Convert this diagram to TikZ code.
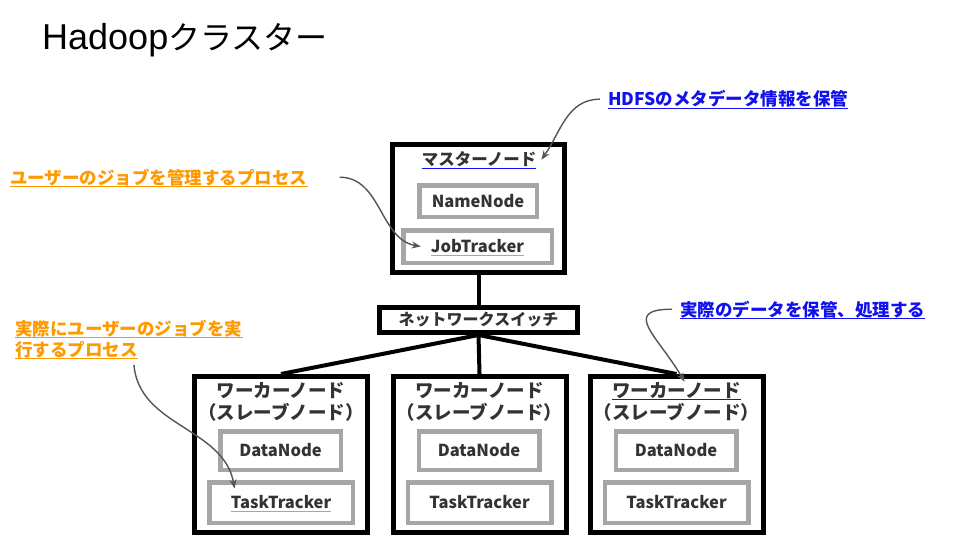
\documentclass[tikz,border=0pt]{standalone}
\usepackage{fontspec}
\setmainfont{Noto Sans CJK JP}
\newfontfamily\titlefont{Liberation Sans}
\usepackage{tikz}
\usetikzlibrary{arrows.meta}
\definecolor{noteblue}{RGB}{17,17,238}
\definecolor{noteorange}{RGB}{255,153,0}
\definecolor{boxgray}{RGB}{166,166,166}
\definecolor{textgray}{RGB}{51,51,51}
\definecolor{arrowgray}{RGB}{85,85,85}
\newcommand{\underlinenode}[2]{\draw[#1,line width=1.6pt] ([yshift=-2.5pt]#2.base west) -- ([yshift=-2.5pt]#2.base east);}

\begin{document}
\begin{tikzpicture}[x=1pt,y=-1pt,
  hostbox/.style={draw=black,line width=5pt,fill=white},
  procbox/.style={draw=boxgray,line width=4.5pt,fill=white},
  proclabel/.style={text=textgray,font=\bfseries\fontsize{16.5}{18}\selectfont,inner sep=0pt},
  headlabel/.style={text=textgray,font=\bfseries\fontsize{18.5}{20}\selectfont,inner sep=0pt,anchor=base},
  note/.style={font=\bfseries\fontsize{17.5}{20}\selectfont,inner sep=0pt,anchor=base west},
  wire/.style={line width=4pt},
  pointer/.style={draw=arrowgray,line width=1.4pt,-{Stealth[length=9pt,width=7pt]}}]
\useasboundingbox[fill=white] (0,0) rectangle (960,540);

\node[anchor=base west,inner sep=0pt] (title) at (42,50) {{\titlefont\fontsize{36}{40}\selectfont Hadoop}{\fontsize{32}{40}\selectfont クラスター}};

\node[hostbox,minimum width=172,minimum height=128] (master) at (478.5,208.5) {};
\node[headlabel,font=\bfseries\fontsize{16.5}{18}\selectfont] (masterhead) at (479,166) {マスターノード};
\node[procbox,minimum width=117.5,minimum height=31.5] (namebox) at (478,201) {};
\node[proclabel] (name) at (namebox) {NameNode};
\node[procbox,minimum width=148.5,minimum height=32.5] (jobbox) at (477.5,246.5) {};
\node[proclabel] (job) at (jobbox) {JobTracker};

\node[hostbox,minimum width=198,minimum height=25,text=textgray,font=\bfseries\fontsize{16}{18}\selectfont] (switch) at (478.5,320) {ネットワークスイッチ};

\node[hostbox,minimum width=173,minimum height=156] (worker1) at (281,454.5) {};
\node[headlabel] (head1a) at (281,397) {ワーカーノード};
\node[headlabel] (head1b) at (281,419) {（スレーブノード）};
\node[procbox,minimum width=120.5,minimum height=38.5] (databox1) at (280.5,450.5) {};
\node[proclabel] (data1) at (databox1) {DataNode};
\node[procbox,minimum width=143.5,minimum height=40.5] (taskbox1) at (281,502.5) {};
\node[proclabel] (task1) at (taskbox1) {TaskTracker};

\node[hostbox,minimum width=173,minimum height=156] (worker2) at (479.5,454.5) {};
\node[headlabel] (head2a) at (479.5,397) {ワーカーノード};
\node[headlabel] (head2b) at (479.5,419) {（スレーブノード）};
\node[procbox,minimum width=120.5,minimum height=38.5] (databox2) at (479,450.5) {};
\node[proclabel] (data2) at (databox2) {DataNode};
\node[procbox,minimum width=143.5,minimum height=40.5] (taskbox2) at (479.5,502.5) {};
\node[proclabel] (task2) at (taskbox2) {TaskTracker};

\node[hostbox,minimum width=173,minimum height=156] (worker3) at (676.5,454.5) {};
\node[headlabel] (head3a) at (676.5,397) {ワーカーノード};
\node[headlabel] (head3b) at (676.5,419) {（スレーブノード）};
\node[procbox,minimum width=120.5,minimum height=38.5] (databox3) at (676,450.5) {};
\node[proclabel] (data3) at (databox3) {DataNode};
\node[procbox,minimum width=143.5,minimum height=40.5] (taskbox3) at (676.5,502.5) {};
\node[proclabel] (task3) at (taskbox3) {TaskTracker};

\draw[wire] (master.south) -- (switch.north);
\draw[wire] (switch.south) -- (worker1.north);
\draw[wire] (switch.south) -- (worker2.north);
\draw[wire] (switch.south) -- (worker3.north);

\node[note,text=noteblue] (hdfsnote) at (608,106) {HDFSのメタデータ情報を保管};
\node[note,text=noteorange] (jobnote) at (10,184) {ユーザーのジョブを管理するプロセス};
\node[note,text=noteorange] (tasknote1) at (15,335) {実際にユーザーのジョブを実};
\node[note,text=noteorange] (tasknote2) at (15,356) {行するプロセス};
\node[note,text=noteblue] (datanote) at (680,316) {実際のデータを保管、処理する};

\underlinenode{noteblue}{hdfsnote}
\underlinenode{noteorange}{jobnote}
\underlinenode{noteorange}{tasknote1}
\underlinenode{noteorange}{tasknote2}
\underlinenode{noteblue}{datanote}
\underlinenode{noteblue}{masterhead}
\underlinenode{noteorange}{job}
\underlinenode{noteorange}{task1}
\underlinenode{noteblue}{head3a}

\draw[pointer] ([xshift=-8pt]hdfsnote.west) to[out=180,in=55] ([xshift=5pt]masterhead.east);
\draw[pointer] ([xshift=32pt]jobnote.east) to[out=0,in=170] ([xshift=-10pt]job.west);
\draw[pointer] ([xshift=-4pt,yshift=-7pt]tasknote2.south east) to[out=-85,in=100] ([xshift=4pt,yshift=7pt]task1.north west);
\draw[pointer] ([xshift=-8pt]datanote.west) to[out=180,in=120,looseness=1.8] ([xshift=8pt]head3a.north);
\end{tikzpicture}
\end{document}
